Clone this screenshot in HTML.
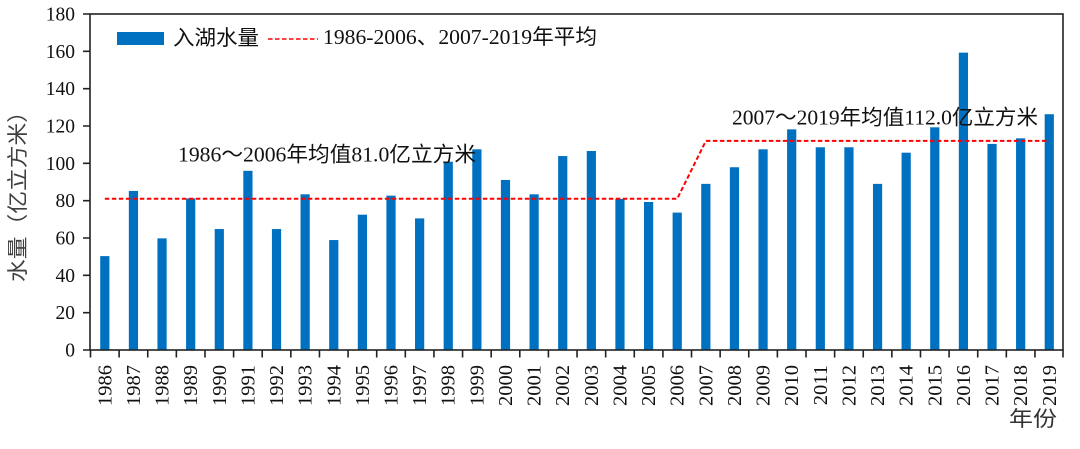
<!DOCTYPE html>
<html>
<head>
<meta charset="utf-8">
<style>
html,body{margin:0;padding:0;background:#fff;}
svg{display:block;}
.serif{font-family:"Liberation Serif","Noto Sans CJK SC",serif;}
.sans{font-family:"Liberation Sans","Noto Sans CJK SC",sans-serif;}
</style>
</head>
<body>
<svg width="1080" height="449" viewBox="0 0 1080 449" xmlns="http://www.w3.org/2000/svg">
<rect x="0" y="0" width="1080" height="449" fill="#fff"/>

<!-- bars -->
<g fill="#0070C0">
<rect x="100.21" y="256.11" width="9.2" height="93.89"/>
<rect x="128.83" y="190.96" width="9.2" height="159.04"/>
<rect x="157.45" y="238.37" width="9.2" height="111.63"/>
<rect x="186.07" y="198.43" width="9.2" height="151.57"/>
<rect x="214.69" y="229.04" width="9.2" height="120.96"/>
<rect x="243.31" y="170.8" width="9.2" height="179.2"/>
<rect x="271.93" y="229.04" width="9.2" height="120.96"/>
<rect x="300.55" y="194.32" width="9.2" height="155.68"/>
<rect x="329.17" y="240.05" width="9.2" height="109.95"/>
<rect x="357.79" y="214.67" width="9.2" height="135.33"/>
<rect x="386.41" y="195.63" width="9.2" height="154.37"/>
<rect x="415.03" y="218.4" width="9.2" height="131.6"/>
<rect x="443.65" y="161.65" width="9.2" height="188.35"/>
<rect x="472.27" y="149.33" width="9.2" height="200.67"/>
<rect x="500.89" y="179.95" width="9.2" height="170.05"/>
<rect x="529.51" y="194.32" width="9.2" height="155.68"/>
<rect x="558.13" y="156.05" width="9.2" height="193.95"/>
<rect x="586.75" y="151.01" width="9.2" height="198.99"/>
<rect x="615.37" y="198.99" width="9.2" height="151.01"/>
<rect x="643.99" y="201.97" width="9.2" height="148.03"/>
<rect x="672.61" y="212.61" width="9.2" height="137.39"/>
<rect x="701.23" y="183.87" width="9.2" height="166.13"/>
<rect x="729.85" y="167.25" width="9.2" height="182.75"/>
<rect x="758.47" y="149.33" width="9.2" height="200.67"/>
<rect x="787.09" y="129.36" width="9.2" height="220.64"/>
<rect x="815.71" y="147.28" width="9.2" height="202.72"/>
<rect x="844.33" y="147.28" width="9.2" height="202.72"/>
<rect x="872.95" y="183.87" width="9.2" height="166.13"/>
<rect x="901.57" y="152.69" width="9.2" height="197.31"/>
<rect x="930.19" y="127.31" width="9.2" height="222.69"/>
<rect x="958.81" y="52.64" width="9.2" height="297.36"/>
<rect x="987.43" y="143.92" width="9.2" height="206.08"/>
<rect x="1016.05" y="138.32" width="9.2" height="211.68"/>
<rect x="1044.67" y="114.24" width="9.2" height="235.76"/>
</g>

<!-- average dashed line -->
<polyline points="104.81,198.8 677.21,198.8 705.83,140.93 1049.27,140.93" fill="none" stroke="#FF0000" stroke-width="2" stroke-dasharray="4.5,2.5"/>

<!-- frame -->
<rect x="90" y="14" width="973" height="336" fill="none" stroke="#222" stroke-width="1.6"/>

<!-- y ticks -->
<path d="M83,350H90M83,312.67H90M83,275.33H90M83,238H90M83,200.67H90M83,163.33H90M83,126H90M83,88.67H90M83,51.33H90M83,14H90" stroke="#222" stroke-width="1.6"/>

<!-- x ticks -->
<path d="M90.5,350V357.5M119.12,350V357.5M147.74,350V357.5M176.36,350V357.5M204.98,350V357.5M233.6,350V357.5M262.22,350V357.5M290.84,350V357.5M319.46,350V357.5M348.08,350V357.5M376.7,350V357.5M405.32,350V357.5M433.94,350V357.5M462.56,350V357.5M491.18,350V357.5M519.8,350V357.5M548.42,350V357.5M577.04,350V357.5M605.66,350V357.5M634.28,350V357.5M662.9,350V357.5M691.52,350V357.5M720.14,350V357.5M748.76,350V357.5M777.38,350V357.5M806,350V357.5M834.62,350V357.5M863.24,350V357.5M891.86,350V357.5M920.48,350V357.5M949.1,350V357.5M977.72,350V357.5M1006.34,350V357.5M1034.96,350V357.5M1063,350V357.5" stroke="#222" stroke-width="1.6"/>

<!-- y tick labels -->
<g class="serif" font-size="19.5" fill="#111" text-anchor="end">
<text x="75" y="356.5">0</text>
<text x="75" y="319.2">20</text>
<text x="75" y="281.8">40</text>
<text x="75" y="244.5">60</text>
<text x="75" y="207.2">80</text>
<text x="75" y="169.8">100</text>
<text x="75" y="132.5">120</text>
<text x="75" y="95.2">140</text>
<text x="75" y="57.8">160</text>
<text x="75" y="20.5">180</text>
</g>

<!-- x tick labels -->
<g class="serif" font-size="20.5" fill="#111" text-anchor="end">
<text transform="translate(111.3,365) rotate(-90)">1986</text>
<text transform="translate(139.9,365) rotate(-90)">1987</text>
<text transform="translate(168.5,365) rotate(-90)">1988</text>
<text transform="translate(197.2,365) rotate(-90)">1989</text>
<text transform="translate(225.8,365) rotate(-90)">1990</text>
<text transform="translate(254.4,365) rotate(-90)">1991</text>
<text transform="translate(283.0,365) rotate(-90)">1992</text>
<text transform="translate(311.6,365) rotate(-90)">1993</text>
<text transform="translate(340.3,365) rotate(-90)">1994</text>
<text transform="translate(368.9,365) rotate(-90)">1995</text>
<text transform="translate(397.5,365) rotate(-90)">1996</text>
<text transform="translate(426.1,365) rotate(-90)">1997</text>
<text transform="translate(454.7,365) rotate(-90)">1998</text>
<text transform="translate(483.4,365) rotate(-90)">1999</text>
<text transform="translate(512.0,365) rotate(-90)">2000</text>
<text transform="translate(540.6,365) rotate(-90)">2001</text>
<text transform="translate(569.2,365) rotate(-90)">2002</text>
<text transform="translate(597.8,365) rotate(-90)">2003</text>
<text transform="translate(626.5,365) rotate(-90)">2004</text>
<text transform="translate(655.1,365) rotate(-90)">2005</text>
<text transform="translate(683.7,365) rotate(-90)">2006</text>
<text transform="translate(712.3,365) rotate(-90)">2007</text>
<text transform="translate(740.9,365) rotate(-90)">2008</text>
<text transform="translate(769.6,365) rotate(-90)">2009</text>
<text transform="translate(798.2,365) rotate(-90)">2010</text>
<text transform="translate(826.8,365) rotate(-90)">2011</text>
<text transform="translate(855.4,365) rotate(-90)">2012</text>
<text transform="translate(884.0,365) rotate(-90)">2013</text>
<text transform="translate(912.7,365) rotate(-90)">2014</text>
<text transform="translate(941.3,365) rotate(-90)">2015</text>
<text transform="translate(969.9,365) rotate(-90)">2016</text>
<text transform="translate(998.5,365) rotate(-90)">2017</text>
<text transform="translate(1027.1,365) rotate(-90)">2018</text>
<text transform="translate(1055.8,365) rotate(-90)">2019</text>
</g>

<!-- axis titles -->
<text class="sans" font-size="21" fill="#404040" text-anchor="middle" transform="translate(25,191) rotate(-90)" textLength="182" lengthAdjust="spacingAndGlyphs">水量（亿立方米）</text>
<text class="sans" x="1009" y="426" font-size="21" fill="#333" textLength="48" lengthAdjust="spacingAndGlyphs">年份</text>

<!-- legend -->
<rect x="117" y="32" width="47" height="13" fill="#0070C0"/>
<text class="sans" x="173" y="45" font-size="21" fill="#111" textLength="86" lengthAdjust="spacingAndGlyphs">入湖水量</text>
<line x1="268" y1="39" x2="318" y2="39" stroke="#FF0000" stroke-width="1.6" stroke-dasharray="4.5,2.5"/>
<text class="serif" x="323" y="44" font-size="21" fill="#111" textLength="274" lengthAdjust="spacingAndGlyphs">1986-2006、2007-2019年平均</text>

<!-- annotations -->
<text class="serif" x="178" y="161.5" font-size="21" fill="#111" textLength="298" lengthAdjust="spacingAndGlyphs">1986～2006年均值81.0亿立方米</text>
<text class="serif" x="732" y="124.5" font-size="21" fill="#111" textLength="306" lengthAdjust="spacingAndGlyphs">2007～2019年均值112.0亿立方米</text>
</svg>
</body>
</html>
